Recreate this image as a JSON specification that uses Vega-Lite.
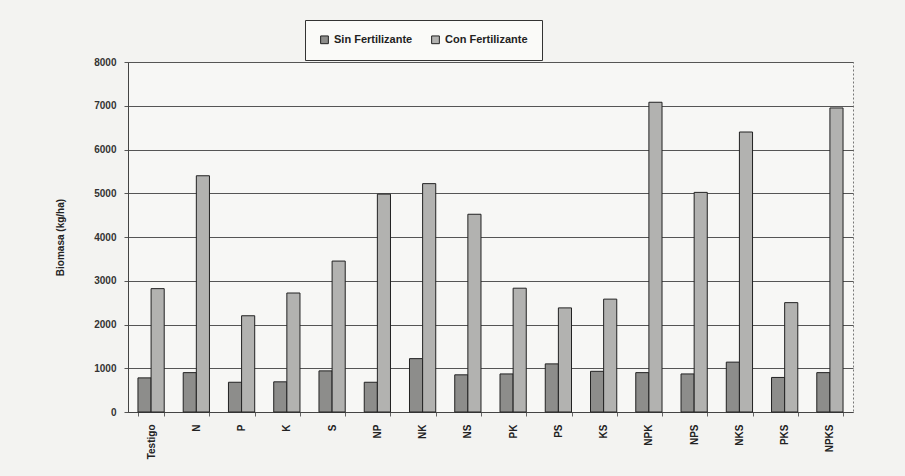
{
  "$schema": "https://vega.github.io/schema/vega-lite/v6.json",
  "width": 725,
  "height": 350,
  "autosize": "none",
  "padding": {"left": 128, "top": 62, "right": 52, "bottom": 64},
  "background": "#f3f3f1",
  "config": {
    "font": "Liberation Sans",
    "view": {"stroke": "#777", "strokeDash": [2, 2], "strokeWidth": 1, "fill": "#f7f7f5"}
  },
  "data": {
    "values": [
      {"tratamiento": "Testigo", "serie": "Sin Fertilizante", "biomasa": 780},
      {"tratamiento": "Testigo", "serie": "Con Fertilizante", "biomasa": 2820},
      {"tratamiento": "N", "serie": "Sin Fertilizante", "biomasa": 900},
      {"tratamiento": "N", "serie": "Con Fertilizante", "biomasa": 5400},
      {"tratamiento": "P", "serie": "Sin Fertilizante", "biomasa": 680},
      {"tratamiento": "P", "serie": "Con Fertilizante", "biomasa": 2200},
      {"tratamiento": "K", "serie": "Sin Fertilizante", "biomasa": 690},
      {"tratamiento": "K", "serie": "Con Fertilizante", "biomasa": 2720},
      {"tratamiento": "S", "serie": "Sin Fertilizante", "biomasa": 940},
      {"tratamiento": "S", "serie": "Con Fertilizante", "biomasa": 3450},
      {"tratamiento": "NP", "serie": "Sin Fertilizante", "biomasa": 680},
      {"tratamiento": "NP", "serie": "Con Fertilizante", "biomasa": 4980},
      {"tratamiento": "NK", "serie": "Sin Fertilizante", "biomasa": 1220},
      {"tratamiento": "NK", "serie": "Con Fertilizante", "biomasa": 5220},
      {"tratamiento": "NS", "serie": "Sin Fertilizante", "biomasa": 850},
      {"tratamiento": "NS", "serie": "Con Fertilizante", "biomasa": 4520},
      {"tratamiento": "PK", "serie": "Sin Fertilizante", "biomasa": 870},
      {"tratamiento": "PK", "serie": "Con Fertilizante", "biomasa": 2830},
      {"tratamiento": "PS", "serie": "Sin Fertilizante", "biomasa": 1100},
      {"tratamiento": "PS", "serie": "Con Fertilizante", "biomasa": 2380},
      {"tratamiento": "KS", "serie": "Sin Fertilizante", "biomasa": 930},
      {"tratamiento": "KS", "serie": "Con Fertilizante", "biomasa": 2580},
      {"tratamiento": "NPK", "serie": "Sin Fertilizante", "biomasa": 900},
      {"tratamiento": "NPK", "serie": "Con Fertilizante", "biomasa": 7080},
      {"tratamiento": "NPS", "serie": "Sin Fertilizante", "biomasa": 870},
      {"tratamiento": "NPS", "serie": "Con Fertilizante", "biomasa": 5020},
      {"tratamiento": "NKS", "serie": "Sin Fertilizante", "biomasa": 1140},
      {"tratamiento": "NKS", "serie": "Con Fertilizante", "biomasa": 6400},
      {"tratamiento": "PKS", "serie": "Sin Fertilizante", "biomasa": 790},
      {"tratamiento": "PKS", "serie": "Con Fertilizante", "biomasa": 2500},
      {"tratamiento": "NPKS", "serie": "Sin Fertilizante", "biomasa": 900},
      {"tratamiento": "NPKS", "serie": "Con Fertilizante", "biomasa": 6950}
    ]
  },
  "mark": {"type": "bar", "stroke": "#222", "strokeWidth": 1},
  "encoding": {
    "x": {
      "field": "tratamiento",
      "type": "nominal",
      "sort": null,
      "scale": {"paddingInner": 0.42, "paddingOuter": 0.22},
      "axis": {
        "title": null,
        "labelAngle": -90,
        "labelFontSize": 10,
        "labelFontWeight": "bold",
        "labelColor": "#222",
        "labelPadding": 8,
        "domainColor": "#444",
        "tickColor": "#666",
        "tickSize": 4,
        "tickBand": "extent"
      }
    },
    "xOffset": {
      "field": "serie",
      "type": "nominal",
      "sort": ["Sin Fertilizante", "Con Fertilizante"]
    },
    "y": {
      "field": "biomasa",
      "type": "quantitative",
      "scale": {"domain": [0, 8000], "nice": false},
      "axis": {
        "title": "Biomasa (kg/ha)",
        "titleFontSize": 10,
        "titleFontWeight": "bold",
        "titleColor": "#222",
        "titlePadding": 28,
        "values": [0, 1000, 2000, 3000, 4000, 5000, 6000, 7000, 8000],
        "format": "d",
        "labelOverlap": false,
        "labelFontSize": 10,
        "labelFontWeight": "bold",
        "labelColor": "#333",
        "labelPadding": 8,
        "domainColor": "#444",
        "tickColor": "#555",
        "tickSize": 4,
        "grid": true,
        "gridColor": "#555",
        "gridWidth": 1
      }
    },
    "color": {
      "field": "serie",
      "type": "nominal",
      "sort": ["Sin Fertilizante", "Con Fertilizante"],
      "scale": {"domain": ["Sin Fertilizante", "Con Fertilizante"], "range": ["#8d8d8b", "#b2b2b0"]},
      "legend": {
        "title": null,
        "orient": "none",
        "direction": "horizontal",
        "legendX": 177,
        "legendY": -42,
        "padding": 14,
        "fillColor": "#fafaf8",
        "strokeColor": "#333",
        "symbolType": "square",
        "symbolSize": 60,
        "symbolStrokeColor": "#222",
        "symbolStrokeWidth": 1,
        "labelFontSize": 11,
        "labelFontWeight": "bold",
        "labelColor": "#222",
        "columnPadding": 16,
        "symbolOffset": 0
      }
    }
  }
}
